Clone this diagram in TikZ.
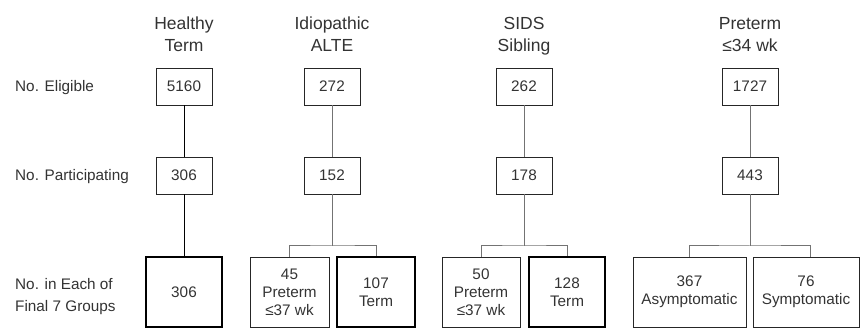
\documentclass[tikz,border=0pt]{standalone}
\usepackage{fontspec}
\setmainfont{Liberation Sans}
\begin{document}
\begin{tikzpicture}[x=1pt,y=-1pt,
  box/.style={draw=black!85, line width=0.9pt, inner sep=0pt, text=black!80,
    font=\fontsize{15.3}{18}\selectfont, align=center},
  small/.style={box, minimum width=56pt, minimum height=37pt},
  final/.style={box, minimum height=70pt},
  heavy/.style={line width=2pt, draw=black},
  hdr/.style={font=\fontsize{17.5}{22}\selectfont, align=center, text=black!80,
    inner sep=0pt, anchor=north},
  lbl/.style={font=\fontsize{15.3}{22}\selectfont, align=left, text=black!80,
    inner sep=0pt},
  link/.style={draw=black!55, line width=1pt},
  linkdark/.style={draw=black, line width=1pt}]
\useasboundingbox (0,0) rectangle (860,328);

% headers
\node[hdr] (hh) at (184,17) {Healthy\\Term};
\node[hdr] (ha) at (332,17) {Idiopathic\\ALTE};
\node[hdr] (hs) at (524,17) {SIDS\\Sibling};
\node[hdr] (hp) at (750,17) {Preterm\\≤34 wk};

% row labels
\node[lbl, anchor=base west] (l1) at (15,92) {No. Eligible};
\node[lbl, anchor=base west] (l2) at (15,181) {No. Participating};
\node[lbl, anchor=north west] (l3) at (15,278) {No. in Each of\\Final 7 Groups};

% top row
\node[small] (h1) at (184,86.5) {5160};
\node[small] (a1) at (332,86.5) {272};
\node[small] (s1) at (524,86.5) {262};
\node[small] (p1) at (750,86.5) {1727};

% middle row
\node[small] (h2) at (184,175.5) {306};
\node[small] (a2) at (332,175.5) {152};
\node[small] (s2) at (524,175.5) {178};
\node[small] (p2) at (750,175.5) {443};

% final row
\node[final, heavy, minimum width=76pt] (h3) at (184,292) {306};
\node[final, minimum width=79pt] (a3) at (289.5,292) {45\\Preterm\\≤37 wk};
\node[final, heavy, minimum width=78pt] (a4) at (376,292) {107\\Term};
\node[final, minimum width=78pt] (s3) at (481,292) {50\\Preterm\\≤37 wk};
\node[final, heavy, minimum width=76pt] (s4) at (567,292) {128\\Term};
\node[final, minimum width=113pt] (p3) at (689.5,292) {367\\Asymptomatic};
\node[final, minimum width=106pt] (p4) at (806,292) {76\\Symptomatic};

% branch points
\coordinate (ab) at (332,246);
\coordinate (sb) at (524,246);
\coordinate (pb) at (750,246);

% connectors
\draw[linkdark] (h1) -- (h2);
\draw[linkdark] (h2) -- (h3);

\draw[link] (a1) -- (a2);
\draw[link] (a2) -- (ab);
\draw[link] (a3.north) |- (ab) -| (a4.north);

\draw[link] (s1) -- (s2);
\draw[link] (s2) -- (sb);
\draw[link] (s3.north) |- (sb) -| (s4.north);

\draw[link] (p1) -- (p2);
\draw[link] (p2) -- (pb);
\draw[link] (p3.north) |- (pb) -| ([xshift=4pt]p4.north);
\end{tikzpicture}
\end{document}
